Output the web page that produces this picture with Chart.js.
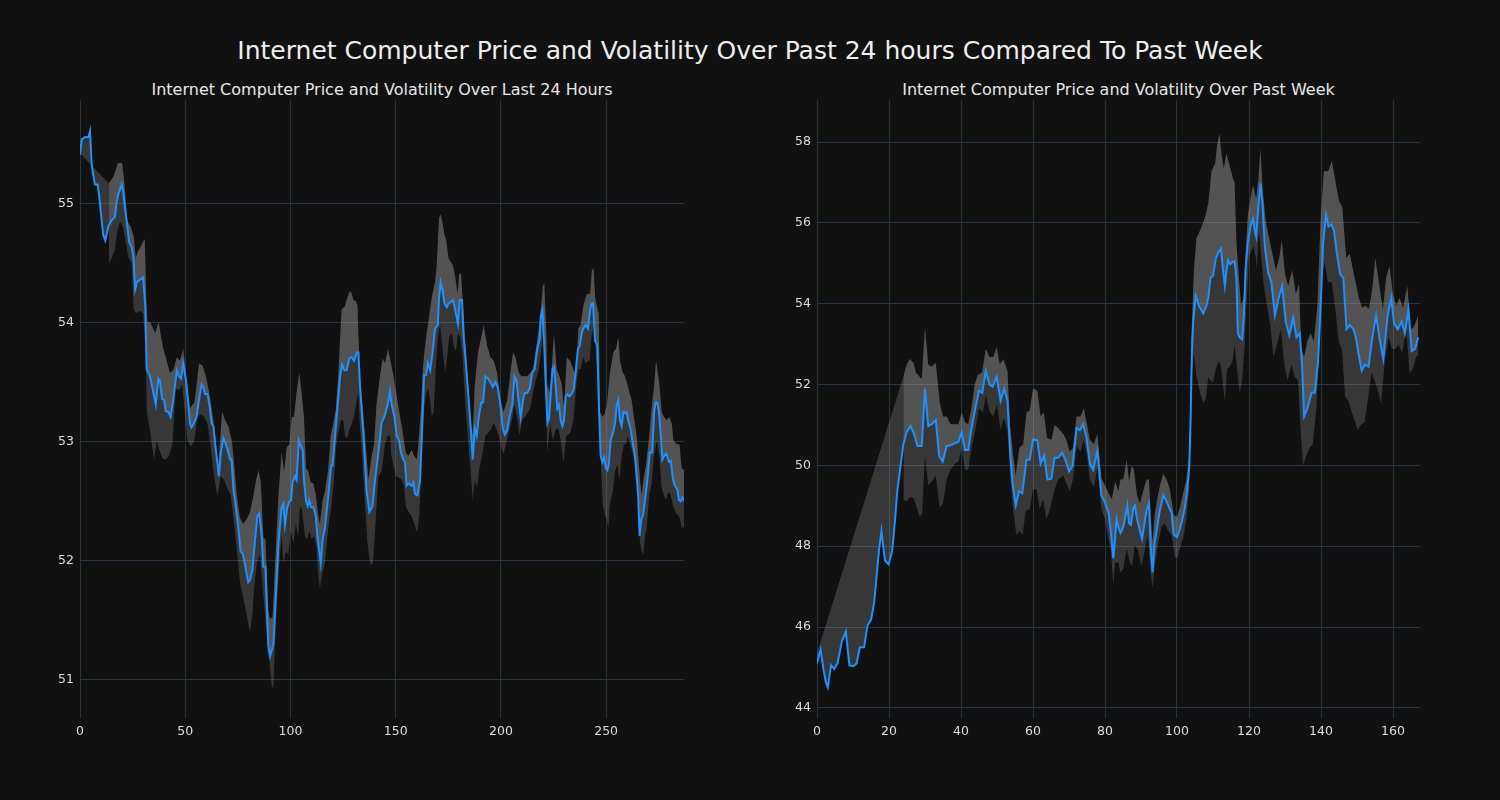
<!DOCTYPE html>
<html><head><meta charset="utf-8">
<script src="https://cdn.jsdelivr.net/npm/chart.js@4.4.1/dist/chart.umd.min.js"></script>
<style>
html,body{margin:0;padding:0;background:#111111;width:1500px;height:800px;overflow:hidden;font-family:"DejaVu Sans",sans-serif;}
.t{position:absolute;color:#eeeeee;text-align:center;white-space:nowrap;}
#main{left:0;width:1500px;top:36px;font-size:25px;line-height:30px;}
#sub1{left:80px;width:604px;top:80px;font-size:16px;line-height:20px;color:#e6e6e6;}
#sub2{left:817px;width:603px;top:80px;font-size:16px;line-height:20px;color:#e6e6e6;}
canvas{position:absolute;top:0;}
#c1{left:0;}
#c2{left:750px;}
</style></head><body>
<div class="t" id="main">Internet Computer Price and Volatility Over Past 24 hours Compared To Past Week</div>
<div class="t" id="sub1">Internet Computer Price and Volatility Over Last 24 Hours</div>
<div class="t" id="sub2">Internet Computer Price and Volatility Over Past Week</div>
<canvas id="c1" width="750" height="800"></canvas>
<canvas id="c2" width="750" height="800"></canvas>
<script>
// ---- Last 24 hours (5-minute steps): [index, value] ----
const price24 = [[0,55.41],[0.8,55.54],[2.4,55.56],[4,55.56],[4.75,55.61],[5.5,55.34],[6.3,55.24],[7.1,55.16],[8.4,55.16],[9,55.08],[10,54.91],[11,54.74],[12,54.69],[13.5,54.81],[15,54.86],[16.6,54.89],[17.4,55.01],[18.2,55.08],[19.8,55.16],[20.6,55.09],[21.4,54.96],[22.7,54.78],[23.3,54.68],[24.6,54.63],[25.4,54.54],[26.2,54.28],[27,54.34],[28.5,54.36],[30,54.38],[31,54.14],[31.7,53.61],[33.3,53.55],[34.4,53.45],[36,53.31],[37.2,53.53],[38,53.51],[39,53.36],[40,53.35],[40.7,53.26],[42,53.25],[43,53.21],[44.3,53.35],[46,53.6],[47,53.55],[48,53.53],[49,53.66],[50.4,53.51],[51.5,53.31],[52.3,53.15],[53,53.12],[54,53.15],[55.4,53.21],[56.6,53.36],[57.8,53.48],[58.6,53.46],[59.4,53.40],[60.6,53.40],[61.5,53.31],[62.6,53.15],[63.4,53.13],[64.2,52.98],[65.4,52.81],[66,52.71],[66.9,52.91],[68.1,53.03],[69.3,52.98],[70.5,52.91],[71.3,52.85],[72,52.85],[72.9,52.6],[73.7,52.5],[75.2,52.28],[76.3,52.08],[77.3,52.06],[78.4,51.97],[79.9,51.82],[80.8,51.84],[81.9,51.92],[83.2,52.18],[84.3,52.38],[85.2,52.40],[86.3,52.21],[87.1,51.95],[88.1,51.95],[88.7,51.65],[89.5,51.28],[90.3,51.2],[91.9,51.3],[93,51.68],[94.3,52.15],[95.8,52.45],[96.6,52.48],[97.4,52.3],[98.5,52.45],[99.5,52.50],[100.3,52.51],[101,52.66],[102.2,52.71],[102.9,52.68],[104,53.01],[105,52.96],[105.8,52.93],[106.4,52.68],[107.4,52.5],[108.2,52.46],[108.9,52.51],[109.8,52.45],[110.9,52.45],[112,52.38],[112.8,52.21],[113.7,52.08],[114.4,51.98],[115.3,52.18],[116.4,52.28],[118,52.55],[119.3,52.8],[120,52.8],[121.2,53.05],[122.3,53.28],[123.6,53.55],[124.5,53.65],[125.6,53.6],[126.7,53.6],[128,53.7],[129.1,53.71],[130.2,53.68],[131.5,53.75],[132.3,53.75],[133,53.48],[134.7,53.05],[136.2,52.58],[137.5,52.41],[139,52.46],[140.2,52.68],[141.8,52.91],[143.3,53.16],[144.6,53.21],[146.2,53.31],[147.3,53.42],[148.1,53.31],[149.4,53.21],[150.5,53.05],[151.6,53.01],[152.5,52.91],[153.6,52.85],[154.4,52.83],[155.2,52.63],[156.3,52.65],[157.6,52.63],[158.4,52.66],[159.2,52.56],[160.4,52.55],[161.6,52.68],[162.3,53.01],[162.9,53.28],[163.5,53.56],[164.4,53.56],[165.3,53.66],[166.4,53.6],[167.5,53.75],[168.7,53.95],[170,53.98],[170.6,54.21],[171.4,54.34],[172.2,54.28],[173.2,54.16],[174.3,54.13],[175.1,54.16],[176,54.17],[177.2,54.19],[178,54.13],[178.8,54.06],[179.6,53.99],[180.4,54.19],[181.5,54.19],[182.3,53.88],[183.4,53.65],[184.7,53.35],[185.8,53.08],[186.6,52.85],[187.6,53.11],[188.5,53.05],[189.5,53.21],[190.7,53.33],[191.5,53.33],[192.6,53.55],[193.9,53.53],[195,53.5],[196.1,53.46],[197.4,53.5],[198.5,53.46],[199.8,53.3],[200.9,53.11],[201.9,53.06],[203,53.1],[204.1,53.21],[205.4,53.31],[206.5,53.55],[207.4,53.51],[208.2,53.38],[209.4,53.2],[210.5,53.35],[211.4,53.41],[212.5,53.41],[213.7,53.45],[214.9,53.58],[216,53.61],[217.3,53.78],[218.4,53.86],[219,54.06],[219.7,54.11],[220.5,53.85],[221.3,53.48],[222.1,53.16],[222.9,53.2],[223.7,53.41],[224.5,53.61],[225.2,53.63],[226,53.48],[226.8,53.28],[227.6,53.31],[228.4,53.18],[229.2,53.13],[230,53.18],[230.8,53.38],[231.5,53.4],[232.6,53.38],[233.9,53.41],[234.7,53.45],[235.5,53.58],[236.6,53.78],[237.4,53.8],[238.4,53.91],[239.1,53.95],[240.3,53.98],[241.4,53.95],[242.2,54.08],[243,54.16],[243.8,54.16],[244.7,53.85],[245.8,53.81],[246.6,53.28],[247.4,52.88],[248.2,52.83],[249,52.87],[249.8,52.78],[250.6,52.76],[251.3,52.81],[252.1,53.01],[253.3,53.08],[254.2,53.15],[255,53.3],[255.8,53.35],[256.6,53.18],[257.4,53.13],[258.2,53.25],[259,53.24],[259.8,53.25],[260.5,53.18],[261.6,53.11],[262.7,52.98],[263.7,52.88],[264.5,52.71],[265.2,52.55],[265.9,52.21],[266.7,52.35],[267.5,52.38],[268.5,52.51],[269.6,52.68],[270.7,52.91],[271.9,52.91],[272.8,53.25],[273.5,53.33],[274.3,53.33],[275.1,53.25],[275.9,53.08],[276.7,52.85],[277.5,52.88],[278.6,52.9],[279.9,52.83],[280.7,52.84],[281.8,52.68],[282.7,52.63],[283.8,52.6],[284.6,52.51],[285.4,52.5],[286.2,52.53],[287,52.5]];
const upper24 = [[0,55.42],[13.7,55.17],[16,55.23],[18,55.34],[20,55.34],[21,55.19],[22.5,54.85],[24,54.81],[25.5,54.73],[26.5,54.54],[27.5,54.6],[28.5,54.63],[30,54.68],[30.8,54.7],[31.5,54.2],[32,54.01],[33.5,54.0],[35.8,53.91],[37.3,54.01],[38.5,53.88],[39.6,53.78],[41.2,53.68],[42.7,53.58],[44.3,53.6],[46,53.71],[47.5,53.68],[49,53.78],[50.5,53.55],[52.1,53.28],[54.4,53.33],[56.6,53.66],[58.2,53.64],[59.8,53.55],[61.3,53.42],[62.8,53.25],[64.4,53.05],[65.5,52.75],[67.5,53.25],[69,53.18],[70.5,53.13],[72.1,53.01],[72.9,52.88],[74.5,52.55],[76,52.36],[77.6,52.31],[79.2,52.35],[80.8,52.41],[82.4,52.55],[83.7,52.68],[84.8,52.76],[85.9,52.66],[87.1,52.2],[88.1,52.18],[89.5,51.58],[90.3,51.51],[91.5,51.53],[92.5,51.9],[94.3,52.55],[95.8,52.91],[97,52.75],[98.2,52.95],[99.5,52.98],[100.6,53.21],[101.7,53.21],[102.9,53.41],[104.2,53.58],[105.3,53.41],[106.4,53.21],[107.4,52.78],[108.5,52.75],[109.6,52.66],[110.9,52.65],[112.1,52.55],[113.2,52.38],[114,52.31],[115.3,52.51],[116.4,52.58],[118,52.78],[119.1,53.05],[120.3,53.15],[121.6,53.28],[122.7,53.55],[124.3,54.11],[125.9,54.14],[127,54.21],[128,54.26],[128.8,54.26],[129.9,54.19],[131.1,54.18],[131.9,54.14],[132.3,53.88],[133.2,53.5],[134.7,53.21],[136.2,52.88],[137,52.68],[138.6,52.88],[139.7,52.98],[140.9,53.31],[142.5,53.55],[143.8,53.7],[144.9,53.66],[146.4,53.78],[147.3,53.7],[149,53.55],[150.5,53.38],[152.1,53.21],[153.6,53.05],[154.8,52.91],[156,52.88],[157.6,52.93],[158.8,52.88],[160,52.85],[160.8,52.98],[162,53.28],[162.9,53.61],[163.7,53.76],[164.7,53.91],[165.5,54.0],[167.1,54.21],[168.7,54.34],[169.5,54.48],[170.6,54.88],[171.4,54.91],[172.2,54.84],[173.2,54.74],[174,54.69],[175.1,54.54],[176.2,54.51],[177.2,54.48],[178.3,54.38],[179.4,54.24],[180.2,54.41],[181.1,54.41],[182.3,54.04],[183.9,53.61],[185.5,53.21],[186.6,53.05],[187.6,53.48],[189.1,53.75],[190.7,53.88],[191.8,53.98],[193.4,53.81],[195,53.71],[196.6,53.68],[198.2,53.58],[199.8,53.35],[201.3,53.25],[203,53.35],[204.5,53.58],[205.8,53.75],[206.9,53.71],[208.5,53.58],[209.7,53.55],[210.8,53.55],[212.5,53.55],[214,53.58],[215.3,53.61],[216.4,53.75],[217.7,53.91],[218.8,54.08],[219.9,54.3],[220.6,54.34],[221.6,53.9],[222,53.48],[223.4,53.41],[225.2,53.91],[226.5,53.61],[227.8,53.55],[228.9,53.48],[230,53.28],[231.3,53.71],[232.8,53.68],[234.4,53.61],[235.7,53.55],[236.8,53.95],[237.9,53.98],[239.1,54.14],[240.8,54.24],[242.4,54.24],[243.2,54.44],[244,54.46],[244.8,54.21],[245.9,54.11],[246.5,54.08],[247.1,53.25],[248.2,53.21],[249.2,53.23],[250.3,53.3],[251.8,53.58],[253.4,53.75],[254.7,53.78],[255.8,53.88],[256.6,53.68],[257.9,53.58],[259,53.55],[260.1,53.48],[261.1,53.41],[262.1,53.35],[263.2,53.21],[264.5,53.05],[266.1,52.68],[266.9,52.55],[267.7,52.68],[269,52.81],[270.5,53.05],[271.6,53.28],[272.7,53.45],[273.7,53.68],[274.3,53.61],[275.3,53.48],[276.4,53.25],[277.5,53.21],[278.8,53.18],[280,53.21],[281.2,53.15],[282,53.01],[283.5,52.98],[284.8,52.98],[285.9,52.78],[287,52.76]];
const lower24 = [[13.7,54.49],[15,54.54],[16.6,54.61],[17.5,54.75],[19,54.85],[20.5,54.8],[21.5,54.7],[23,54.55],[24.5,54.5],[25.5,54.11],[26.5,54.08],[28.5,54.1],[30,54.08],[31,53.8],[31.8,53.25],[33.6,53.05],[35.2,52.85],[36.5,53.01],[37.6,52.94],[39.2,52.86],[40.7,52.85],[42.3,52.88],[43.9,52.98],[45.5,53.45],[47,53.43],[48.6,53.48],[51,53.01],[52.6,52.96],[54.2,53.0],[55.8,53.21],[57.4,53.23],[59,53.21],[60.6,53.15],[62.1,52.95],[63.7,52.71],[65.3,52.55],[66.9,52.71],[68.5,52.68],[70,52.61],[71.6,52.55],[73,52.35],[74.5,52.1],[76,51.82],[78.4,51.62],[79.9,51.48],[80.8,51.4],[81.9,51.55],[82.8,51.78],[84,51.98],[85.5,52.05],[87.1,51.72],[88.7,51.38],[90,51.15],[91.1,50.95],[91.9,50.93],[93,51.45],[94.6,51.95],[95.8,52.21],[96.6,51.98],[97.9,52.08],[99,52.05],[100.1,52.25],[101.4,52.15],[102.5,52.31],[103.7,52.21],[104.5,52.45],[105.3,52.45],[106.9,52.21],[107.8,52.18],[109,52.25],[110.1,52.18],[111.2,52.21],[112.4,52.11],[113.2,51.88],[114,51.77],[115.3,51.91],[116.4,51.98],[118,52.28],[119.6,52.48],[120.7,52.68],[121.6,52.95],[122.7,53.08],[124,53.18],[125.1,53.18],[125.9,53.05],[127,53.03],[128,53.1],[129.1,53.15],[130.2,53.21],[131.5,53.35],[132.3,53.41],[132.8,53.18],[134,52.9],[135.4,52.48],[136.6,52.15],[137.8,51.98],[139.1,51.97],[140.2,52.25],[141.8,52.71],[143.3,52.75],[144.9,52.98],[146.2,53.05],[147.3,53.05],[148,52.88],[150,52.71],[151.5,52.7],[152.8,52.68],[153.9,52.63],[154.9,52.45],[156.2,52.41],[157.4,52.38],[158.5,52.33],[159.7,52.26],[160.4,52.25],[161.3,52.41],[162,52.68],[162.8,52.98],[163.6,53.28],[164.4,53.4],[165.3,53.45],[166.4,53.35],[167.2,53.21],[168,53.25],[168.7,53.48],[169.5,53.75],[170.3,53.91],[171.1,53.98],[171.9,53.85],[172.7,53.71],[173.5,53.58],[174.3,53.68],[175.4,53.88],[176.7,53.91],[177.5,53.81],[178.6,53.76],[179.6,53.91],[180.7,53.88],[181.8,53.71],[183.1,53.31],[184.7,52.95],[185.9,52.68],[186.6,52.51],[187.6,52.68],[188.7,52.61],[189.8,52.78],[191,52.88],[192.6,53.05],[194.2,53.08],[195.4,53.11],[196.6,53.16],[197.8,53.11],[198.9,53.05],[200.2,52.95],[201.3,52.9],[202.4,52.98],[203.7,53.08],[205.3,53.18],[206.4,53.31],[207.7,53.21],[208.8,53.05],[210,53.18],[211.4,53.21],[213,53.25],[214.1,53.3],[215.2,53.41],[216.4,53.51],[217.7,53.58],[218.8,53.71],[219.9,53.88],[220.9,53.95],[222,52.91],[223.4,53.15],[224.7,53.01],[226.2,53.11],[227.3,53.11],[228.4,53.01],[229.7,52.83],[231,53.05],[232,53.06],[233.1,53.08],[234.4,53.18],[235.7,53.45],[236.8,53.61],[237.9,53.61],[239.1,53.71],[240.2,53.66],[241.4,53.68],[242.2,53.68],[243,53.88],[244.3,54.01],[245.2,53.71],[246.3,53.55],[247.4,52.88],[248.4,52.48],[249.5,52.38],[250.3,52.35],[251.1,52.28],[251.8,52.48],[253.1,52.58],[254.2,52.75],[255.3,52.81],[256.3,52.68],[257.4,52.88],[258.5,52.98],[259.5,52.98],[260.3,53.05],[261.4,52.98],[262.6,52.91],[263.7,52.81],[264.5,52.68],[265.3,52.41],[266.1,52.15],[266.9,52.08],[267.7,52.05],[268.5,52.21],[269.3,52.28],[270.5,52.55],[271.6,52.65],[272.7,52.88],[274,53.01],[275.3,52.88],[276.4,52.61],[277.5,52.55],[278.5,52.51],[279.6,52.58],[280.7,52.55],[282,52.45],[283.2,52.4],[284.3,52.38],[285.1,52.35],[285.9,52.28],[287,52.28]];

// ---- Past week (hourly steps): [index, value] ----
const priceWeek = [[0,45.1],[1,45.44],[1.8,44.95],[2.4,44.66],[3,44.51],[3.9,45.06],[4.8,44.96],[5.7,45.1],[6.9,45.64],[8,45.89],[9,45.05],[10.1,45.03],[11,45.1],[11.9,45.5],[13.1,45.5],[14,46.03],[15,46.18],[15.9,46.62],[16.6,47.3],[17.2,47.89],[17.9,48.38],[18.4,47.99],[18.9,47.64],[19.9,47.55],[20.9,47.89],[21.7,48.67],[22.3,49.36],[23,49.85],[24,50.53],[24.9,50.82],[26,50.97],[27,50.77],[27.9,50.48],[29.1,50.48],[30,51.9],[30.9,50.97],[31.9,51.02],[33,51.12],[33.9,50.24],[34.9,50.09],[36,50.48],[37.1,50.5],[38.3,50.55],[39.3,50.58],[40.2,50.82],[41.1,50.38],[42,50.38],[42.9,50.92],[44.1,51.46],[45,51.85],[45.9,51.8],[46.9,52.34],[47.9,52.0],[48.8,51.95],[49.9,52.19],[51,51.6],[52,51.9],[52.9,51.6],[53.6,50.43],[54.3,49.55],[55.2,49.01],[56.1,49.36],[57,49.31],[58.2,50.14],[59.1,50.14],[60,50.64],[61.2,50.62],[62.1,50.04],[63.1,50.24],[64,49.65],[65.1,49.67],[66,50.19],[67,50.19],[68.1,50.31],[69,50.14],[70,49.85],[71,49.99],[72.1,50.92],[73,50.87],[73.9,51.02],[74.9,50.68],[75.8,50.04],[76.7,49.89],[77.9,50.36],[79,49.26],[80,49.08],[81,48.82],[81.6,48.38],[82.3,47.7],[82.8,48.18],[83.2,48.67],[83.7,48.48],[84.3,48.33],[85.1,48.48],[85.8,48.82],[86.2,49.01],[86.7,48.57],[87.2,48.53],[87.9,48.96],[88.3,49.01],[88.9,48.67],[89.7,48.38],[90.3,48.18],[90.9,48.53],[91.5,48.87],[92.2,49.06],[92.7,47.99],[93.2,47.35],[93.8,48.09],[94.5,48.48],[95.2,48.87],[96.2,49.26],[97.1,49.11],[97.8,48.96],[98.5,48.82],[99.1,48.28],[100,48.23],[100.8,48.43],[101.5,48.67],[102.2,48.96],[102.8,49.36],[103.4,49.94],[103.8,51.21],[104.1,52.68],[104.5,53.56],[105.2,54.2],[106.1,53.95],[107.3,53.76],[108.2,53.95],[108.7,54.15],[109.3,54.64],[110,54.69],[110.8,55.13],[111.5,55.27],[112.2,55.37],[112.8,54.83],[113.3,54.44],[113.7,54.78],[114.2,55.08],[114.8,54.98],[115.4,55.03],[116,55.05],[116.5,54.64],[116.9,53.27],[117.4,53.17],[118.1,53.12],[118.6,53.76],[119.1,54.93],[119.7,55.52],[120.4,55.91],[121.1,56.1],[121.6,55.81],[122,55.66],[122.6,56.4],[123.2,56.98],[123.7,56.49],[124.4,55.42],[125.3,54.78],[126.2,54.54],[127.2,53.71],[128.1,54.1],[129.2,54.44],[130.2,53.56],[131.2,53.22],[132.3,53.66],[133.2,53.17],[134.1,53.27],[134.8,52.39],[135.3,51.21],[136.2,51.41],[137.4,51.8],[138.3,51.8],[139.2,52.58],[140,54.15],[140.6,55.52],[141.4,56.2],[142.1,55.91],[142.9,55.96],[143.6,55.81],[144.3,55.32],[145.3,54.73],[146.2,54.64],[147.1,53.37],[148,53.47],[149,53.37],[149.7,53.17],[150.4,52.78],[151.3,52.34],[152.2,52.49],[153.2,52.44],[154.1,53.07],[155.3,53.71],[156.4,53.07],[157.3,52.63],[158.5,53.71],[159.5,54.15],[160.3,53.51],[161.3,53.37],[162.4,53.56],[163.3,53.27],[164.3,53.86],[165.2,52.83],[166.1,52.88],[167,53.17]];
const upperWeek = [[0,45.35],[24,52.2],[24.9,52.49],[25.8,52.63],[26.8,52.53],[27.5,52.29],[28.5,52.19],[29.1,52.14],[30,53.41],[30.9,52.49],[31.9,52.44],[33,52.53],[34.1,51.55],[35,51.21],[36,51.21],[37.1,51.02],[38.3,51.02],[39.3,51.02],[40.2,51.31],[41.1,51.07],[42,51.02],[42.9,51.41],[43.8,52.0],[44.7,52.24],[45.8,52.29],[46.9,52.88],[47.9,52.68],[49,52.68],[49.9,52.93],[50.8,52.49],[51.7,52.63],[52.9,52.34],[53.6,51.02],[54.5,50.24],[55.2,49.75],[56.2,50.43],[57.3,50.53],[58.2,51.31],[59.1,51.36],[60,51.9],[61.2,51.85],[62.1,51.21],[63,51.31],[63.9,50.68],[65.1,50.63],[66,51.0],[67,50.92],[68.4,50.78],[69.3,50.63],[70.2,50.34],[71.1,50.43],[72.1,51.21],[73.2,51.21],[74.1,51.41],[75,51.02],[75.8,50.63],[76.9,50.53],[77.9,50.78],[79,49.68],[80,49.5],[81,49.31],[81.9,49.16],[82.8,49.6],[83.7,49.36],[84.3,49.65],[85.1,49.65],[86,50.14],[86.7,49.6],[87.4,49.99],[88,49.89],[88.9,49.26],[89.7,49.06],[90.6,49.36],[91.5,49.65],[92.2,49.65],[92.7,48.77],[93.2,48.09],[93.8,48.77],[94.5,49.16],[95.4,49.55],[96.2,49.79],[97.1,49.65],[98,49.41],[99.1,48.77],[100,48.72],[100.8,48.96],[101.7,49.31],[102.6,49.65],[103.4,50.24],[104,53.17],[104.7,54.83],[105.4,55.62],[106.4,55.81],[107.3,56.01],[108,56.2],[108.7,56.49],[109.6,57.28],[110.6,57.47],[111.2,57.96],[111.8,58.21],[112.4,57.67],[113,57.33],[113.7,57.72],[114.7,57.38],[115.6,57.08],[116,56.99],[116.5,55.52],[117.2,54.64],[117.8,53.95],[118.5,54.15],[119.1,55.32],[119.7,56.2],[120.4,56.6],[121.1,56.93],[122,56.59],[122.6,57.08],[123.2,57.86],[123.8,56.79],[124.7,56.01],[125.6,55.62],[126.5,55.23],[127.5,54.83],[128.4,55.13],[129.1,55.57],[130,54.73],[130.9,54.44],[132,54.83],[133,54.24],[133.9,54.49],[134.5,52.88],[135.3,52.68],[136.2,53.07],[137.1,53.27],[138,53.07],[139,53.95],[139.9,56.1],[140.8,57.28],[142,57.28],[143,57.53],[143.9,57.08],[145,56.54],[145.9,56.4],[147,55.13],[148,55.23],[148.9,54.83],[149.6,54.54],[150.5,54.15],[151.4,53.9],[152.4,53.95],[153.3,53.86],[154.2,54.34],[155.1,55.13],[156.2,54.44],[157.2,53.86],[158.1,54.64],[159,54.93],[160,54.24],[160.9,53.95],[161.8,54.15],[162.8,53.9],[164,54.44],[164.9,53.37],[165.8,53.42],[167,53.7]];
const lowerWeek = [[24,49.16],[24.9,49.11],[25.8,49.21],[26.8,49.2],[27.7,48.96],[28.6,48.72],[29.2,48.82],[30,50.24],[30.9,49.5],[31.9,49.6],[33,49.75],[34.1,48.96],[35,49.06],[36,49.65],[37.1,49.89],[38.3,50.04],[39.3,50.09],[40.2,50.43],[41.1,49.89],[42,49.89],[42.9,50.43],[44.1,50.92],[45,51.41],[46.1,51.31],[46.9,51.75],[48,51.31],[49,51.21],[50,51.51],[51,50.87],[51.9,51.17],[52.9,50.87],[53.6,49.85],[54.5,48.87],[55.4,48.28],[56.2,48.38],[57.1,48.28],[58,48.87],[59.1,48.92],[60,49.41],[61,49.41],[61.9,48.92],[62.8,49.16],[63.7,48.67],[64.6,48.87],[66,49.41],[67,49.65],[68.4,49.75],[69.3,49.55],[70.2,49.36],[71.1,49.65],[72.1,50.48],[73.2,50.34],[74.1,50.63],[75,50.24],[75.8,49.65],[76.9,49.45],[77.9,49.94],[79,48.92],[80,48.67],[81,48.18],[81.6,47.89],[82.3,47.06],[82.8,47.6],[83.7,47.6],[84.3,47.35],[85.1,47.45],[86,47.94],[86.9,47.6],[87.5,47.5],[88.3,48.04],[89.2,47.89],[90.1,47.5],[91,47.89],[91.9,48.28],[92.7,47.35],[93.2,46.96],[93.8,47.5],[94.8,48.09],[95.7,48.48],[96.6,48.57],[97.5,48.38],[98.5,48.28],[99.4,47.74],[100.1,47.7],[100.9,47.99],[101.7,48.18],[102.6,48.67],[103.4,49.45],[104,52.19],[104.7,52.78],[105.4,52.19],[106.4,51.8],[107.3,51.55],[108,51.65],[108.7,52.19],[109.3,52.1],[110,52.05],[110.8,52.39],[111.5,52.58],[112.1,52.49],[112.8,52.0],[113.3,51.6],[113.9,52.39],[114.7,52.44],[115.4,52.58],[116,52.98],[116.5,52.58],[116.9,52.19],[117.4,51.8],[118.1,52.1],[118.8,52.98],[119.3,53.95],[120,55.13],[120.7,55.32],[121.3,55.42],[121.9,55.13],[122.2,54.83],[122.7,55.81],[123.2,55.32],[124,54.54],[125,53.95],[125.9,53.47],[126.8,52.68],[127.7,52.98],[128.9,53.37],[129.8,52.49],[130.7,52.1],[131.8,52.49],[132.7,52.19],[133.6,52.1],[134.3,50.92],[135,49.99],[135.9,50.24],[136.8,50.43],[137.7,50.53],[138.7,51.41],[139.4,52.78],[140.3,54.64],[141,55.03],[141.9,54.54],[143,54.54],[144,53.86],[144.9,53.07],[145.8,52.88],[146.7,51.7],[147.6,51.6],[148.6,51.31],[149.3,51.12],[150.2,50.87],[151.2,51.02],[152.1,51.07],[153,51.6],[154,52.29],[154.9,52.1],[156,51.8],[156.7,51.51],[157.7,52.58],[158.8,53.17],[159.7,52.88],[160.6,52.88],[161.6,52.98],[162.5,52.78],[163.7,53.37],[164.6,52.29],[165.5,52.39],[166.4,52.68],[167,52.75]];

const xTicks24 = [0, 50, 100, 150, 200, 250];
const yTicks24 = [51, 52, 53, 54, 55];
const xTicksWeek = [0, 20, 40, 60, 80, 100, 120, 140, 160];
const yTicksWeek = [44, 46, 48, 50, 52, 54, 56, 58];

const BAND = 'rgba(168,168,168,0.26)';
const GRID = '#29323f';
const TICK = '#dddddd';
const FONT = 'DejaVu Sans';

function pts(a){ return a.map(p => ({x: p[0], y: p[1]})); }

function makeChart(id, price, upper, lower, xr, yr, xt, yt, yw, padR){
  return new Chart(document.getElementById(id), {
    type: 'line',
    data: { datasets: [
      {data: pts(price), borderColor: '#1e90ff', borderWidth: 2, pointRadius: 0, tension: 0, fill: 1, backgroundColor: BAND},
      {data: pts(upper), borderColor: 'rgba(0,0,0,0)', borderWidth: 0, pointRadius: 0, tension: 0, fill: 2, backgroundColor: BAND},
      {data: pts(lower), borderColor: 'rgba(0,0,0,0)', borderWidth: 0, pointRadius: 0, tension: 0, fill: false}
    ]},
    options: {
      responsive: false, animation: false, devicePixelRatio: 1,
      layout: {padding: {left: 0, top: 100, right: padR, bottom: 52}},
      plugins: {legend: {display: false}, tooltip: {enabled: false}, title: {display: false}},
      scales: {
        x: {type: 'linear', min: xr[0], max: xr[1],
            afterFit: s => { s.height = 30; },
            afterBuildTicks: s => { s.ticks = xt.map(v => ({value: v})); },
            ticks: {color: TICK, font: {family: FONT, size: 12.5}, padding: 6, maxRotation: 0, includeBounds: false},
            grid: {color: GRID, lineWidth: 1, drawTicks: false}, border: {display: false}},
        y: {type: 'linear', min: yr[0], max: yr[1],
            afterFit: s => { s.width = yw; },
            afterBuildTicks: s => { s.ticks = yt.map(v => ({value: v})); },
            ticks: {color: TICK, font: {family: FONT, size: 12.5}, padding: 6, includeBounds: false},
            grid: {color: GRID, lineWidth: 1, drawTicks: false}, border: {display: false}}
      }
    }
  });
}

makeChart('c1', price24, upper24, lower24, [0, 287], [50.68, 55.87], xTicks24, yTicks24, 80, 66);
makeChart('c2', priceWeek, upperWeek, lowerWeek, [0, 167.5], [43.75, 59.04], xTicksWeek, yTicksWeek, 67, 80);
</script>
</body></html>
